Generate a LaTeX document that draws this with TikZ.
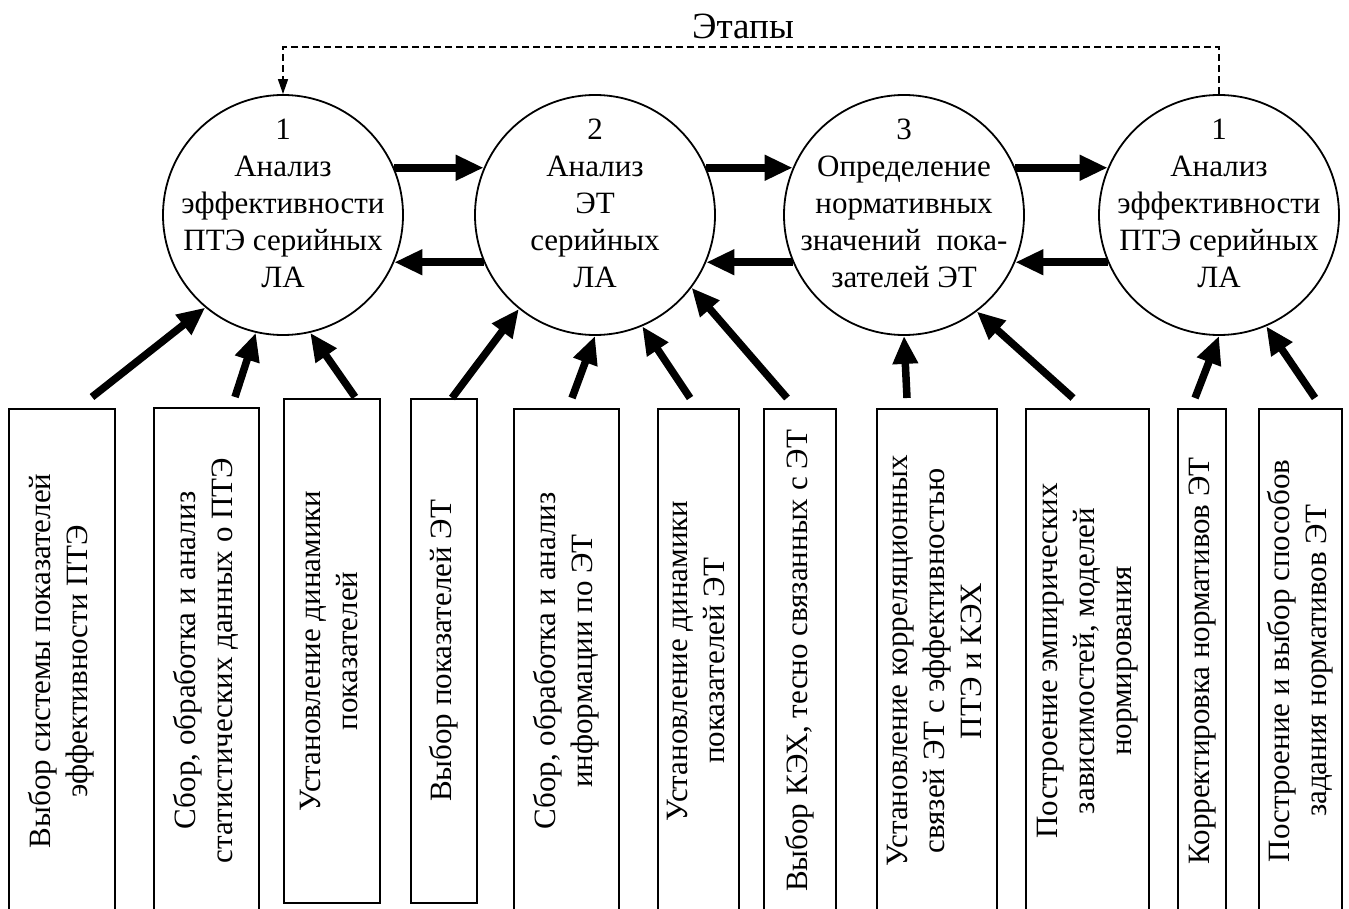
\documentclass[tikz,border=0pt]{standalone}
\usepackage{fontspec}
\setmainfont{Liberation Serif}
\usepackage{tikz}
\usetikzlibrary{arrows.meta}
\usetikzlibrary{positioning}

\newcommand{\vlab}[1]{\rotatebox{90}{\begin{tabular}{@{}c@{}}#1\end{tabular}}}

\tikzset{
  stage/.style={draw, circle, line width=0.9pt, minimum size=120pt, inner sep=0pt},
  stagetext/.style={align=center, inner sep=0pt},
  task/.style={draw, rectangle, line width=0.9pt, anchor=north west, inner sep=0pt},
  bigarrow/.style={line width=3.75pt, -{Triangle[length=14pt,width=12pt]}},
  loopback/.style={line width=0.7pt, dash pattern=on 3.5pt off 2pt, -{Triangle[length=7.5pt,width=5pt]}}
}

\begin{document}
\begin{tikzpicture}[x=0.5pt, y=-0.5pt, every node/.style={font=\fontsize{15.5pt}{18.5pt}\selectfont}]
  \useasboundingbox (0,0) rectangle (1349,909);

  % stages
  \node[stage] (c1) at (283,215) {};
  \node[stage] (c2) at (595,215) {};
  \node[stage] (c3) at (904,215) {};
  \node[stage] (c4) at (1219,215) {};
  \node[stagetext] (c1t) at ([yshift=6pt]c1) {1\\Анализ\\эффективности\\ПТЭ серийных\\ЛА};
  \node[stagetext] (c2t) at ([yshift=6pt]c2) {2\\Анализ\\ЭТ\\серийных\\ЛА};
  \node[stagetext] (c3t) at ([yshift=6pt]c3) {3\\Определение\\нормативных\\значений~~пока-\\зателей ЭТ};
  \node[stagetext] (c4t) at ([yshift=6pt]c4) {1\\Анализ\\эффективности\\ПТЭ серийных\\ЛА};

  \node[anchor=base, font=\fontsize{18.5pt}{22pt}\selectfont] (stages) at (743,39) {Этапы};
  \draw[loopback] (c4.north) -- ++(0,-47) -| (c1.north);

  % forward and back
  \draw[bigarrow] (c1.23) -- (c2.157);
  \draw[bigarrow] (c2.23) -- (c3.157);
  \draw[bigarrow] (c3.23) -- (c4.157);
  \draw[bigarrow] (c2.203) -- (c1.337);
  \draw[bigarrow] (c3.203) -- (c2.337);
  \draw[bigarrow] (c4.203) -- (c3.337);

  % tasks
  \node[task, minimum width=53pt, minimum height=252pt] (b1) at (8,408)
    {\vlab{Выбор системы показателей\\эффективности ПТЭ}};
  \node[task, minimum width=52.5pt, minimum height=252.5pt] (b2) at (153,407)
    {\vlab{Сбор, обработка и анализ\\статистических данных о ПТЭ}};
  \node[task, minimum width=48pt, minimum height=252pt] (b3) at (283,398)
    {\vlab{Установление динамики\\показателей}};
  \node[task, minimum width=33pt, minimum height=252pt] (b4) at (410,398)
    {\vlab{Выбор показателей ЭТ}};
  \node[task, minimum width=52.5pt, minimum height=252pt] (b5) at (513,408)
    {\vlab{Сбор, обработка и анализ\\информации по ЭТ}};
  \node[task, minimum width=40.5pt, minimum height=252pt] (b6) at (657,408)
    {\vlab{Установление динамики\\показателей ЭТ}};
  \node[task, minimum width=36pt, minimum height=252pt] (b7) at (763,408)
    {\vlab{Выбор КЭХ, тесно связанных с ЭТ}};
  \node[task, minimum width=60pt, minimum height=252pt] (b8) at (876,408)
    {\vlab{Установление корреляционных\\связей ЭТ с эффективностью\\ПТЭ и КЭХ}};
  \node[task, minimum width=61.5pt, minimum height=252pt] (b9) at (1025,408)
    {\vlab{Построение эмпирических\\зависимостей, моделей\\нормирования}};
  \node[task, minimum width=24pt, minimum height=252pt] (b10) at (1177,408)
    {\vlab{Корректировка нормативов ЭТ}};
  \node[task, minimum width=41.5pt, minimum height=252pt] (b11) at (1258,408)
    {\vlab{Построение и выбор способов\\задания нормативов ЭТ}};

  % inputs
  \draw[bigarrow] ([shift={(84,-11)}]b1.north west) -- (c1.230);
  \draw[bigarrow] ([shift={(82,-10)}]b2.north west) -- (c1.257);
  \draw[bigarrow] ([shift={(72,-1)}]b3.north west) -- (c1.283);
  \draw[bigarrow] ([shift={(42,0)}]b4.north west) -- (c2.231);
  \draw[bigarrow] ([shift={(59,-10)}]b5.north west) -- (c2.270);
  \draw[bigarrow] ([shift={(33,-10)}]b6.north west) -- (c2.293);
  \draw[bigarrow] ([shift={(24,-10)}]b7.north west) -- (c2.323);
  \draw[bigarrow] ([shift={(31,-10)}]b8.north west) -- (c3.270);
  \draw[bigarrow] ([shift={(48,-10)}]b9.north west) -- (c3.307);
  \draw[bigarrow] ([shift={(18,-10)}]b10.north west) -- (c4.270);
  \draw[bigarrow] ([shift={(57,-10)}]b11.north west) -- (c4.293);
\end{tikzpicture}
\end{document}
